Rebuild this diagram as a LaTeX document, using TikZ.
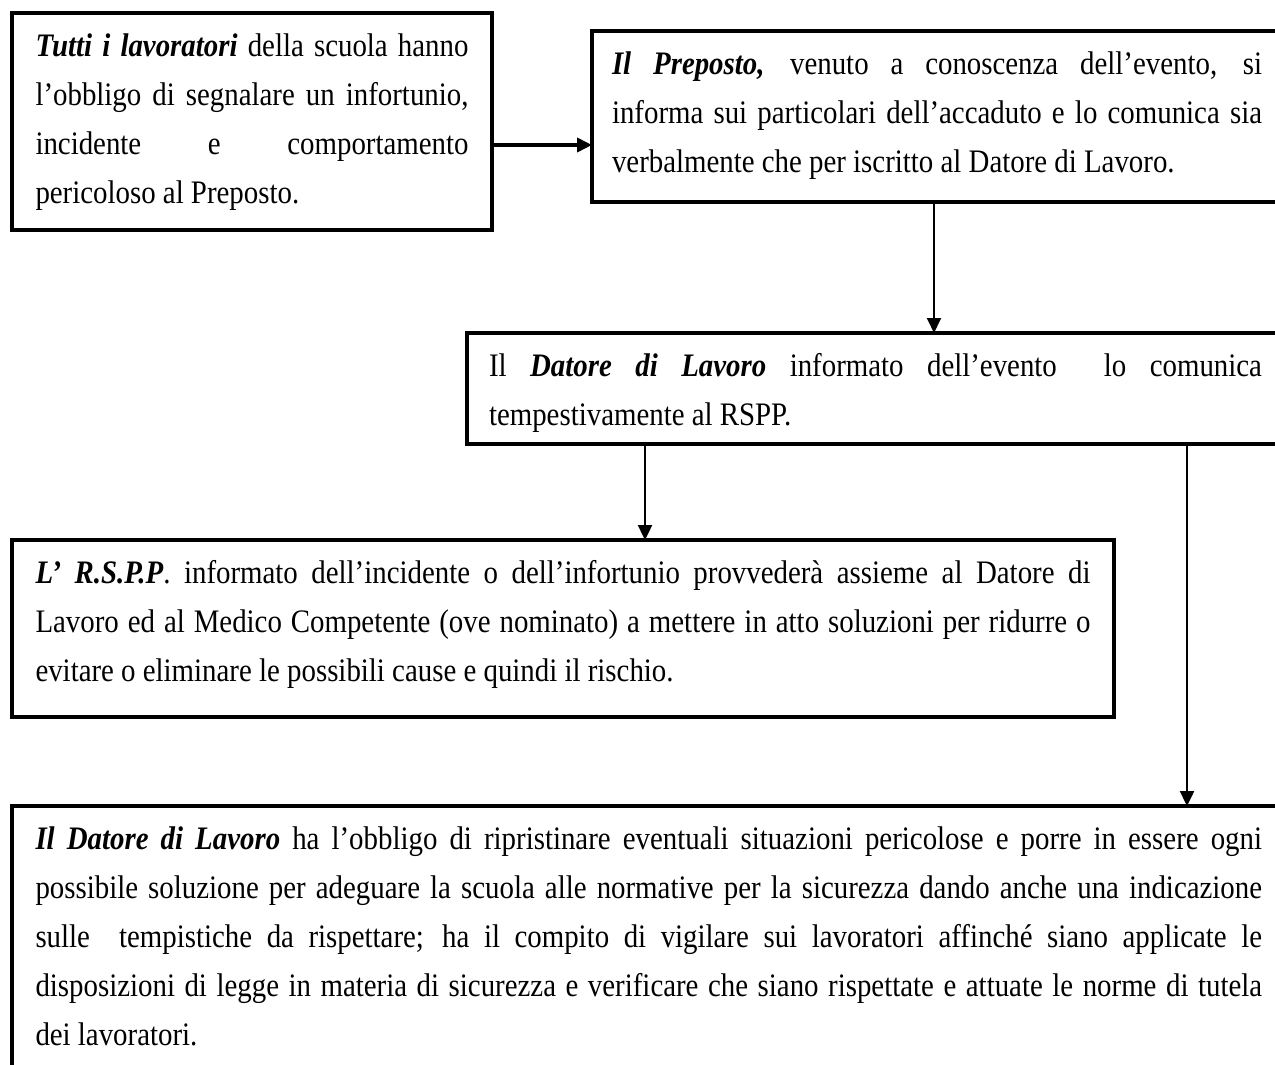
\documentclass[tikz,border=0pt]{standalone}
\usepackage{fontspec}
\setmainfont{Liberation Serif}[FakeStretch=0.88]
\usetikzlibrary{arrows.meta}
\newcommand\jline[1]{\hbox to\hsize{#1}}
\newcommand\fl{\rule{0pt}{21.5pt}}
\newcommand\lastdp[1]{\rule[-#1]{0pt}{#1}}
\newcommand\boxlines[2]{\vbox{\hsize=#1\relax #2}}
\newcommand\bi[1]{\textbf{\textit{#1}}}
\begin{document}
\begin{tikzpicture}[x=0.5pt,y=-0.5pt,
  box/.style={draw, line width=2pt, anchor=north west, inner ysep=0pt, outer sep=0pt,
    font=\fontsize{16.4}{24.6}\selectfont},
  arr/.style={-{Triangle[length=7.5pt,width=7pt]}, line width=1.2pt}
]
\useasboundingbox (0,0) rectangle (1275,1065);
\clip (0,0) rectangle (1275,1065);

\node[box, inner xsep=11.75pt] (b1) at (12,13) {\boxlines{216.5pt}{%
\jline{\fl\bi{Tutti i lavoratori} della scuola hanno}
\jline{l’obbligo di segnalare un infortunio,}
\jline{incidente e comportamento}
\hbox{pericoloso al Preposto.\lastdp{13pt}}}};

\node[box, inner xsep=10pt] (b2) at (592,31) {\boxlines{325pt}{%
\jline{\fl\bi{Il Preposto,} venuto a conoscenza dell’evento, si}
\jline{informa sui particolari dell’accaduto e lo comunica sia}
\hbox{verbalmente che per iscritto al Datore di Lavoro.\lastdp{15pt}}}};

\node[box, inner xsep=11pt] (b3) at (467,333) {\boxlines{386.5pt}{%
\jline{\fl Il \bi{Datore di Lavoro} informato dell’evento\ \ lo comunica}
\hbox{tempestivamente al RSPP.\lastdp{9.5pt}}}};

\node[box, inner xsep=11.75pt] (b4) at (12,540) {\boxlines{527.5pt}{%
\jline{\fl\bi{L’ R.S.P.P}. informato dell’incidente o dell’infortunio provvederà assieme al Datore di}
\jline{Lavoro ed al Medico Competente (ove nominato) a mettere in atto soluzioni per ridurre o}
\hbox{evitare o eliminare le possibili cause e quindi il rischio.\lastdp{18pt}}}};

\node[box, inner xsep=11.75pt] (b5) at (12,806) {\boxlines{613.25pt}{%
\jline{\fl\bi{Il Datore di Lavoro} ha l’obbligo di ripristinare eventuali situazioni pericolose e porre in essere ogni}
\jline{possibile soluzione per adeguare la scuola alle normative per la sicurezza dando anche una indicazione}
\jline{sulle\ \ tempistiche da rispettare; ha il compito di vigilare sui lavoratori affinché siano applicate le}
\jline{disposizioni di legge in materia di sicurezza e verificare che siano rispettate e attuate le norme di tutela}
\hbox{dei lavoratori.\lastdp{40pt}}}};

\coordinate (y1) at (0,145);
\coordinate (x2) at (934,0);
\coordinate (x3) at (645,0);
\coordinate (x4) at (1187,0);

\draw[arr, line width=2pt] (b1.east |- y1) -- (b2.west |- y1);
\draw[arr, line width=1pt] (b2.south -| x2) -- (b3.north -| x2);
\draw[arr] (b3.south -| x3) -- (b4.north -| x3);
\draw[arr] (b3.south -| x4) -- (b5.north -| x4);
\end{tikzpicture}
\end{document}
